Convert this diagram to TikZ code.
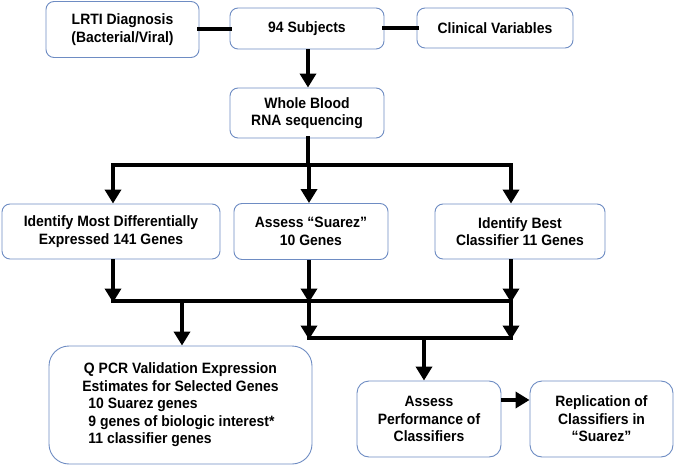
\documentclass[tikz,border=0pt]{standalone}
\usepackage{fontspec}
\setmainfont{Liberation Sans}[FakeStretch=0.93]
\usetikzlibrary{arrows.meta}
\definecolor{boxline}{RGB}{110,140,195}
\tikzset{
  box/.style={draw=boxline, line width=0.9pt, rounded corners=8pt, fill=white,
    align=center, inner sep=0pt, font=\fontsize{15}{17.5}\selectfont\bfseries},
  conn/.style={line width=4.5pt, line cap=rect},
  arr/.style={line width=4.5pt, -{Triangle[width=16pt,length=14pt]}}
}
\begin{document}
\begin{tikzpicture}[x=1pt,y=-1pt]
\useasboundingbox (0,0) rectangle (675,468);
% nodes
\node[box, minimum width=153pt, minimum height=56pt] (lrti) at (122.5,29.5) {LRTI Diagnosis\\(Bacterial/Viral)};
\node[box, minimum width=154pt, minimum height=41pt] (subj) at (307,28.5) {94 Subjects};
\node[box, minimum width=156pt, minimum height=40pt] (clin) at (495,28) {Clinical Variables};
\node[box, minimum width=154pt, minimum height=50pt] (blood) at (307,113) {Whole Blood\\RNA sequencing};
\node[box, minimum width=218pt, minimum height=55pt] (most) at (111,231.5) {Identify Most Differentially\\Expressed 141 Genes};
\node[box, minimum width=154pt, minimum height=56pt] (suarez) at (311,231.5) {Assess “Suarez”\\10 Genes};
\node[box, minimum width=170pt, minimum height=55pt] (best) at (520,231.5) {Identify Best\\Classifier 11 Genes};
\node[box, rounded corners=20pt, minimum width=263pt, minimum height=118pt] (qpcr) at (180.5,405)
  {\begin{tabular}{@{}l@{}}\multicolumn{1}{@{}c@{}}{Q PCR Validation Expression}\\
   \multicolumn{1}{@{}c@{}}{Estimates for Selected Genes}\\
   \hspace{6pt}10 Suarez genes\\
   \hspace{6pt}9 genes of biologic interest*\\
   \hspace{6pt}11 classifier genes\end{tabular}};
\node[box, rounded corners=12pt, minimum width=144pt, minimum height=76pt] (perf) at (429,419) {Assess\\Performance of\\Classifiers};
\node[box, rounded corners=12pt, minimum width=143pt, minimum height=76pt] (repl) at (601.5,419) {Replication of\\Classifiers in\\“Suarez”};
% junction coordinates
\coordinate (t0) at (308,165);
\coordinate (tl) at (113,165);
\coordinate (tm) at (309,165);
\coordinate (tr) at (511,165);
\coordinate (ml) at (113,301);
\coordinate (mq) at (182,301);
\coordinate (mm) at (309,301);
\coordinate (mr) at (511,301);
\coordinate (ll) at (309,338);
\coordinate (lp) at (424,338);
\coordinate (lr) at (511,338);
% connectors
\draw[conn] (lrti.east |- 0,29) -- (subj.west |- 0,29);
\draw[conn] (subj.east |- 0,28) -- (clin.west |- 0,28);
\draw[arr] (subj.south -| 308,0) -- (blood.north -| 308,0);
\draw[conn] (blood.south -| t0) -- (t0);
\draw[conn] (tl) -- (tr);
\draw[arr] (tl) -- (tl |- most.north);
\draw[arr] (tm) -- (tm |- suarez.north);
\draw[arr] (tr) -- (tr |- best.north);
\draw[arr] (ml |- most.south) -- ([yshift=-1.5pt]ml);
\draw[arr] (mm |- suarez.south) -- ([yshift=-1.5pt]mm);
\draw[arr] (mr |- best.south) -- ([yshift=-1.5pt]mr);
\draw[conn] (ml) -- (mr);
\draw[arr] (mq) -- (mq |- qpcr.north);
\draw[arr] (mm) -- ([yshift=-1.5pt]ll);
\draw[arr] (mr) -- ([yshift=-1.5pt]lr);
\draw[conn] (ll) -- (lr);
\draw[arr] (lp) -- (lp |- perf.north);
\draw[arr] (perf.east |- 0,400) -- (repl.west |- 0,400);
\end{tikzpicture}
\end{document}
